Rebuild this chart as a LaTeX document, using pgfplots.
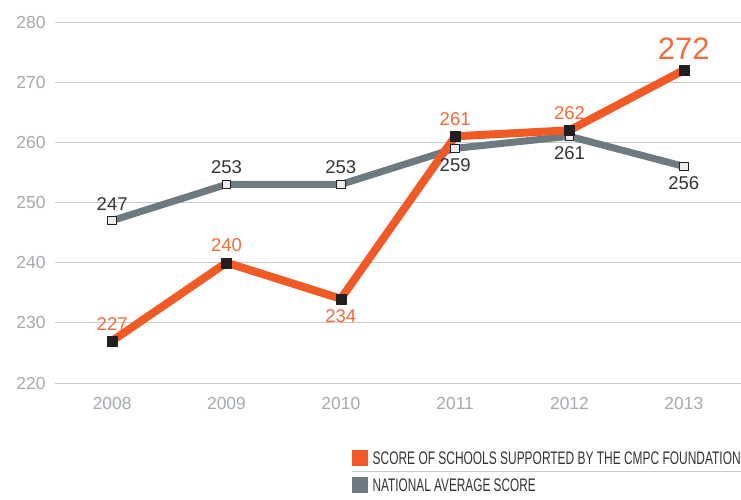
\documentclass[border=0pt]{standalone}
\usepackage{fontspec}
\setmainfont{Liberation Sans}
\usepackage{pgfplots}
\pgfplotsset{compat=1.18}

\definecolor{cmpcorange}{HTML}{F15A24}
\definecolor{cmpclabel}{HTML}{F26B3A}
\definecolor{natgray}{HTML}{6D7A82}
\definecolor{gridgray}{HTML}{C5CACE}
\definecolor{tickgray}{HTML}{A3A9AE}
\definecolor{markblack}{HTML}{231F20}
\definecolor{textdark}{HTML}{333333}

\pgfplotsset{
  labelled/.style={
    point meta=explicit symbolic,
    nodes near coords,
    visualization depends on={value \thisrow{pos}\as\lblpos},
    visualization depends on={value \thisrow{fs}\as\lblfs},
    every node near coord/.append style={anchor=\lblpos,
      inner sep=0pt, outer sep=10.5bp,
      font=\fontsize{\lblfs bp}{\lblfs bp}\selectfont},
  },
}

\begin{document}
\begin{tikzpicture}
\useasboundingbox (-55bp,-117bp) rectangle (686bp,383bp);
\begin{axis}[
  scale only axis,
  width=686bp, height=361bp,
  xmin=-0.5, xmax=5.5,
  ymin=220, ymax=280,
  clip=false,
  axis line style={draw=none},
  tick style={draw=none},
  ymajorgrids,
  major grid style={gridgray, line width=1bp},
  xtick={0,1,2,3,4,5},
  xticklabels={2008,2009,2010,2011,2012,2013},
  ytick={220,230,240,250,260,270,280},
  /pgf/number format/assume math mode=true,
  ticklabel style={font=\fontsize{17.5}{19}\selectfont, text=tickgray},
  yticklabel style={xshift=-6bp},
  xticklabel style={yshift=-11bp},
]
% national average (x = year index, 0 = 2008)
\addplot[labelled, natgray, line width=7bp, line join=round,
  mark=square*, mark size=4.3bp,
  mark options={fill=gray!15, draw=markblack, line width=0.8bp},
  nodes near coords style={text=textdark}]
  table[x=x, y=y, meta=y] {
x y pos fs
0 247 south 18.5
1 253 south 18.5
2 253 south 18.5
3 259 north 18.5
4 261 north 18.5
5 256 north 18.5
};
% schools supported by the CMPC foundation
\addplot[labelled, cmpcorange, line width=8bp, line join=round,
  mark=square*, mark size=5bp,
  mark options={fill=markblack, draw=markblack, line width=0.1bp},
  nodes near coords style={text=cmpclabel}]
  table[x=x, y=y, meta=y] {
x y pos fs
0 227 south 18.5
1 240 south 18.5
2 234 north 18.5
3 261 south 18.5
4 262 south 18.5
5 272 south 31
};
\end{axis}

% legend
\fill[cmpcorange] (297bp,-83bp) rectangle (313bp,-67bp);
\node[anchor=base west, inner sep=0, text=textdark] at (317.5bp,-81.3bp)
  {\resizebox{368bp}{12.7bp}{SCORE OF SCHOOLS SUPPORTED BY THE CMPC FOUNDATION}};
\draw[gridgray, line width=1.2bp] (297bp,-88.5bp) -- (686bp,-88.5bp);
\fill[natgray] (297bp,-110bp) rectangle (313bp,-94bp);
\node[anchor=base west, inner sep=0, text=textdark] at (317.5bp,-108.3bp)
  {\resizebox{163bp}{12.7bp}{NATIONAL AVERAGE SCORE}};
\end{tikzpicture}
\end{document}
